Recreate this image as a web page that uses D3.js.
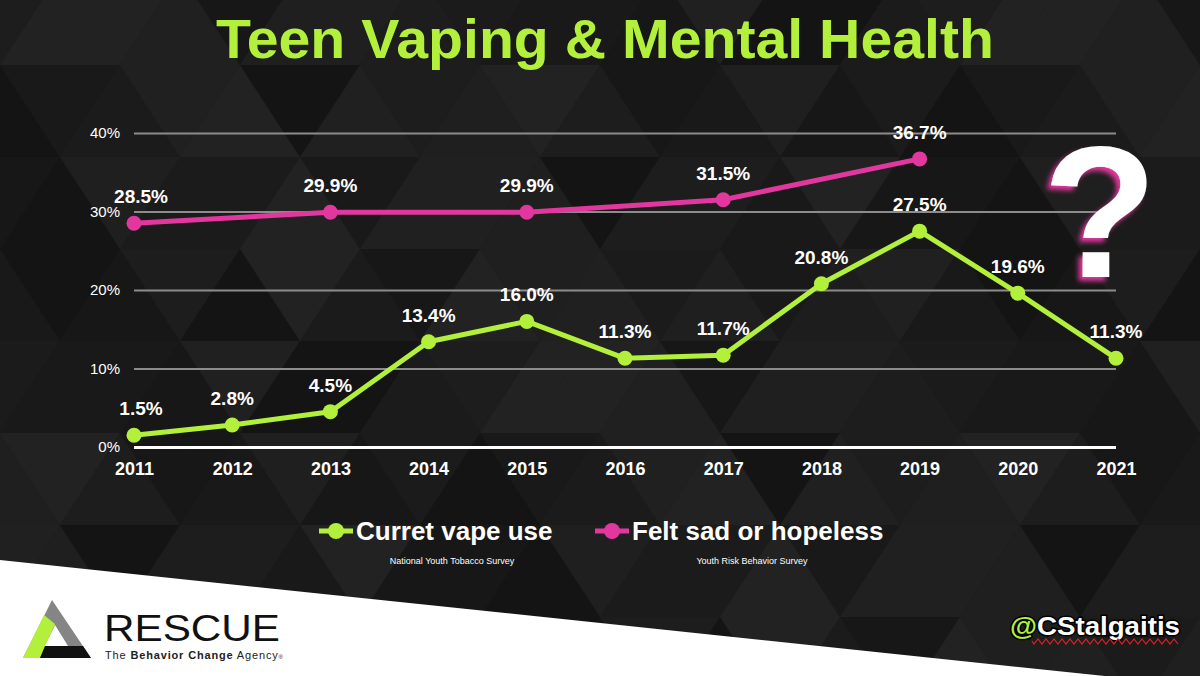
<!DOCTYPE html>
<html>
<head>
<meta charset="utf-8">
<script src="https://cdn.jsdelivr.net/npm/d3@7"></script>
<style>
  html, body { margin: 0; padding: 0; background: #1c1c1c; }
  svg { display: block; font-family: "Liberation Sans", Arial, sans-serif; }
</style>
</head>
<body>
<svg id="drawing_region"></svg>
<script>
// chart values
const years = ["2011","2012","2013","2014","2015","2016","2017","2018","2019","2020","2021"];
const vapeUse = [1.5, 2.8, 4.5, 13.4, 16.0, 11.3, 11.7, 20.8, 27.5, 19.6, 11.3];
const sadHopeless = [28.5, null, 29.9, null, 29.9, null, 31.5, null, 36.7, null, null];
const yTicks = [0, 10, 20, 30, 40];
const seriesNames = ["Curret vape use", "Felt sad or hopeless"];
const seriesSources = ["National Youth Tobacco Survey", "Youth Risk Behavior Survey"];

const W = 1200, H = 676;
const green = "#b3f03b", pink = "#e2379f";

const svg = d3.select("#drawing_region").attr("width", W).attr("height", H);

const defs = svg.append("defs");
const glow = defs.append("filter").attr("id", "qglow")
    .attr("x", "-30%").attr("y", "-30%").attr("width", "160%").attr("height", "160%");
glow.append("feDropShadow").attr("dx", -4).attr("dy", 4).attr("stdDeviation", 2.5)
    .attr("flood-color", pink).attr("flood-opacity", 1);

// background: dark low-poly triangles
const bg = svg.append("g");
bg.append("rect").attr("width", W).attr("height", H).attr("fill", "#1c1c1c");
const shades = ["#1b1b1b","#1f1f1f","#171717","#222222","#1d1d1d","#141414","#202020","#191919"];
const rowH = 92, colW = 120, y0 = -27;
for (let r = 0; r < 9; r++) {
    const yt = y0 + r * rowH, yb = yt + rowH;
    const shift = (r % 2) * colW / 2 - colW;
    for (let k = 0; k < 13; k++) {
        const xl = shift + k * colW;
        const up = [[xl, yb], [xl + colW / 2, yt], [xl + colW, yb]];
        const down = [[xl + colW / 2, yt], [xl + colW * 1.5, yt], [xl + colW, yb]];
        bg.append("path").attr("d", "M" + up.join("L") + "Z")
            .attr("fill", shades[(r * 5 + k * 3) % shades.length]);
        bg.append("path").attr("d", "M" + down.join("L") + "Z")
            .attr("fill", shades[(r * 3 + k * 7 + 4) % shades.length]);
    }
}

// white lower band
svg.append("path").attr("d", "M0,560 L1200,686 L1200,700 L0,700 Z").attr("fill", "#ffffff");

// title
svg.append("text")
    .attr("x", 605).attr("y", 58)
    .attr("text-anchor", "middle")
    .attr("font-family", "'Liberation Sans Narrow', 'Liberation Sans', Arial, sans-serif")
    .attr("font-size", 55).attr("font-weight", 700)
    .attr("fill", green)
    .attr("textLength", 778).attr("lengthAdjust", "spacingAndGlyphs")
    .text("Teen Vaping & Mental Health");

// scales
const xscale = d3.scalePoint().domain(years).range([134, 1116]);
const yscale = d3.scaleLinear().domain([0, 40]).range([447, 133]);

// y axis with grid lines
const yaxis = d3.axisLeft(yscale)
    .tickValues(yTicks)
    .tickFormat(d => d + "%")
    .tickSize(-(1116 - 134))
    .tickPadding(14);
const yg = svg.append("g").attr("transform", "translate(134,0)").call(yaxis);
yg.select(".domain").remove();
yg.selectAll(".tick line")
    .attr("stroke", d => d === 0 ? "#ffffff" : "#8c8c8c")
    .attr("stroke-width", d => d === 0 ? 3 : 2);
yg.selectAll(".tick text")
    .attr("fill", "#ffffff").attr("font-size", 15)
    .attr("font-family", "'Liberation Sans', Arial, sans-serif");

// x axis
const xaxis = d3.axisBottom(xscale).tickSize(0).tickPadding(15);
const xg = svg.append("g").attr("transform", "translate(0,447)").call(xaxis);
xg.select(".domain").remove();
xg.selectAll(".tick text")
    .attr("fill", "#ffffff").attr("font-size", 18).attr("font-weight", 700)
    .attr("font-family", "'Liberation Sans', Arial, sans-serif");

// series
const series = [
    { values: sadHopeless, color: pink },
    { values: vapeUse, color: green }
];
const line = d3.line()
    .defined(d => d.v !== null)
    .x(d => xscale(d.year))
    .y(d => yscale(d.v));

series.forEach(s => {
    const pts = years.map((year, i) => ({ year, v: s.values[i], i }));
    const valid = pts.filter(d => d.v !== null);
    const g = svg.append("g");
    g.append("path")
        .datum(valid)
        .attr("fill", "none")
        .attr("stroke", s.color)
        .attr("stroke-width", 5)
        .attr("stroke-linejoin", "round")
        .attr("d", line);
    g.selectAll("circle").data(valid).enter().append("circle")
        .attr("cx", d => xscale(d.year))
        .attr("cy", d => yscale(d.v))
        .attr("r", 7.5)
        .attr("fill", s.color);
    g.selectAll("text").data(valid).enter().append("text")
        .attr("x", d => xscale(d.year) + (d.i === 0 ? 7 : 0))
        .attr("y", d => yscale(d.v) - 20)
        .attr("text-anchor", "middle")
        .attr("fill", "#ffffff")
        .attr("font-size", 19).attr("font-weight", 700)
        .text(d => d.v.toFixed(1) + "%");
});

// question mark
svg.append("text")
    .attr("x", 1100).attr("y", 277)
    .attr("text-anchor", "middle")
    .attr("font-size", 188).attr("font-weight", 700)
    .attr("fill", "#ffffff")
    .attr("filter", "url(#qglow)")
    .text("?");

// legend
const legend = [
    { name: seriesNames[0], source: seriesSources[0], color: green, x: 319, srcX: 452 },
    { name: seriesNames[1], source: seriesSources[1], color: pink, x: 595, srcX: 752 }
];
legend.forEach(l => {
    const g = svg.append("g");
    g.append("line").attr("x1", l.x).attr("x2", l.x + 34)
        .attr("y1", 531).attr("y2", 531)
        .attr("stroke", l.color).attr("stroke-width", 5);
    g.append("circle").attr("cx", l.x + 17).attr("cy", 531).attr("r", 8).attr("fill", l.color);
    g.append("text").attr("x", l.x + 37).attr("y", 540)
        .attr("fill", "#ffffff").attr("font-size", 26).attr("font-weight", 700)
        .text(l.name);
    g.append("text").attr("x", l.srcX).attr("y", 564)
        .attr("text-anchor", "middle")
        .attr("fill", "#ffffff").attr("font-size", 9)
        .text(l.source);
});

// RESCUE logo
const logo = svg.append("g");
logo.append("path").attr("d", "M52,600 L91,658 L23,658 Z").attr("fill", "#858585");
logo.append("path").attr("d", "M44,615 L55,624 L40,658 L23,658 Z").attr("fill", green);
logo.append("path").attr("d", "M55,625 L68,646 L45,646 Z").attr("fill", "#ffffff");
logo.append("path").attr("d", "M45,646 L83,646 L91,658 L40,658 Z").attr("fill", "#111111");
logo.append("text").attr("x", 104).attr("y", 641)
    .attr("font-family", "'Liberation Sans', Arial, sans-serif")
    .attr("font-size", 37).attr("font-weight", 400).attr("fill", "#111111")
    .attr("textLength", 176).attr("lengthAdjust", "spacingAndGlyphs")
    .text("RESCUE");
const tag = logo.append("text").attr("x", 105).attr("y", 659)
    .attr("font-family", "'Liberation Sans', Arial, sans-serif")
    .attr("font-size", 11).attr("fill", "#222222")
    .attr("textLength", 178).attr("lengthAdjust", "spacing");
tag.append("tspan").text("The ");
tag.append("tspan").attr("font-weight", 700).text("Behavior Change");
tag.append("tspan").text(" Agency");
tag.append("tspan").attr("font-size", 6).text("®");

// handle
const handle = svg.append("text").attr("x", 1010).attr("y", 635)
    .attr("font-size", 26).attr("font-weight", 700)
    .attr("textLength", 170).attr("lengthAdjust", "spacingAndGlyphs")
    .attr("stroke", "#000000").attr("stroke-width", 3).attr("paint-order", "stroke");
handle.append("tspan").attr("fill", green).text("@");
handle.append("tspan").attr("fill", "#ffffff").text("CStalgaitis");
let wave = "M1032,641";
for (let xw = 1032; xw < 1180; xw += 4) wave += ` L${xw + 2},${xw % 8 === 0 ? 644 : 639}`;
svg.append("path").attr("d", wave).attr("fill", "none")
    .attr("stroke", "#e02020").attr("stroke-width", 1.2);
</script>
</body>
</html>
